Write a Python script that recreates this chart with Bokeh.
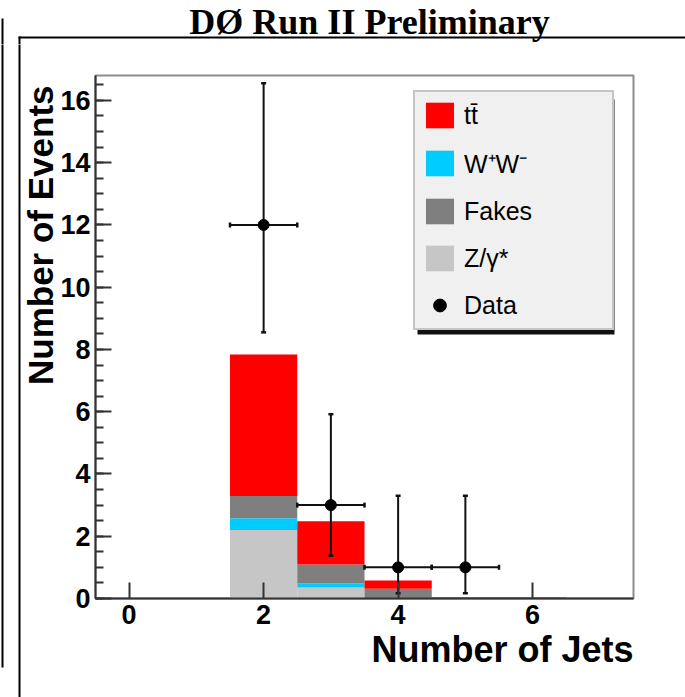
import numpy as np
from bokeh.plotting import figure
from bokeh.layouts import column, row
from bokeh.models import (Range1d, FixedTicker, Legend, LegendItem, Title,
                          BoxAnnotation)
from bokeh.core.properties import value
from bokeh.embed import file_html
from bokeh.resources import INLINE

# Jet multiplicity bins and stacked background expectations
jets = [0, 1, 2, 3, 4, 5, 6, 7]
zgamma = [0.0, 0.0, 2.20, 0.35, 0.02, 0.0, 0.0, 0.0]
ww = [0.0, 0.0, 0.38, 0.14, 0.0, 0.0, 0.0, 0.0]
fakes = [0.0, 0.0, 0.71, 0.60, 0.29, 0.0, 0.0, 0.0]
ttbar = [0.0, 0.0, 4.55, 1.39, 0.27, 0.03, 0.03, 0.0]

# Observed events with asymmetric (Poisson) error bars
data_jets = [2, 3, 4, 5]
data_n = [12, 3, 1, 1]
data_lo = [8.55, 1.37, 0.17, 0.17]
data_hi = [16.55, 5.92, 3.30, 3.30]

x_ticks = [0, 2, 4, 6]
y_ticks = [0, 2, 4, 6, 8, 10, 12, 14, 16]
y_minor = [0.5 * k for k in range(34)]

FONT = "Liberation Sans"
W, H = 685, 697
TOP_H = 44       # height of the title strip
LEFT_W = 21      # width of the left strip


def strip(width, height, x0, x1, y0, y1):
    """A bare figure whose data units are page pixels (y grows downwards)."""
    f = figure(width=width, height=height, output_backend="svg",
               toolbar_location=None, x_range=Range1d(x0, x1),
               y_range=Range1d(y1, y0), min_border=0, frame_align=False)
    f.axis.visible = False
    f.grid.visible = False
    f.outline_line_color = None
    f.background_fill_color = "white"
    f.border_fill_color = "white"
    return f


# ---- title strip -------------------------------------------------------
top = strip(W, TOP_H, 0, W, 0, TOP_H)
top.quad(left=[18, 1, 18], right=[W + 5, 3, 20], top=[36, 18, 36],
         bottom=[38, TOP_H + 1, TOP_H + 1], fill_color="black",
         line_color=None)
top.text(x=[369], y=[21], text=["DØ Run II Preliminary"],
         text_font=value("Liberation Serif"), text_font_style="bold",
         text_font_size="36px", text_align="center",
         text_baseline="alphabetic", text_color="black")

# ---- left strip (page rules) -------------------------------------------
left = strip(LEFT_W, H - TOP_H, 0, LEFT_W, TOP_H, H)
left.quad(left=[1, 18], right=[3, 20], top=[TOP_H - 1, TOP_H - 1],
          bottom=[667, H + 5], fill_color="black", line_color=None)

# ---- main histogram ----------------------------------------------------
p = figure(width=W - LEFT_W, height=H - TOP_H, title=None,
           output_backend="svg", toolbar_location=None, frame_align=False,
           x_range=Range1d(-0.5, 7.5), y_range=Range1d(0, 16.8),
           min_border_left=95 - LEFT_W, min_border_right=52,
           min_border_top=75 - TOP_H, min_border_bottom=99)
p.background_fill_color = "white"
p.border_fill_color = "white"
p.grid.visible = False
p.outline_line_color = "#8c8c8c"
p.outline_line_width = 2

x = np.array(jets, dtype=float)
layers = [("Z/γ*", zgamma, "#c6c6c6"),
          ("W⁺W⁻", ww, "#00ccff"),
          ("Fakes", fakes, "#7f7f7f"),
          ("tt\u0304", ttbar, "#ff0000")]
bottom = np.zeros(len(jets))
renderers = {}
for name, vals, color in layers:
    top_edge = bottom + np.array(vals)
    renderers[name] = p.quad(left=x - 0.5, right=x + 0.5, bottom=bottom,
                             top=top_edge, fill_color=color, line_color=None)
    bottom = top_edge

dx = np.array(data_jets, dtype=float)
dn = np.array(data_n, dtype=float)
err_col = "#111111"
p.segment(x0=dx, y0=data_lo, x1=dx, y1=data_hi, line_color=err_col, line_width=2)
p.segment(x0=dx - 0.5, y0=dn, x1=dx + 0.5, y1=dn, line_color=err_col, line_width=2)
p.scatter(x=np.concatenate([dx, dx]), y=np.concatenate([data_lo, data_hi]),
          marker="dash", size=5, line_color=err_col, line_width=2.5)
p.scatter(x=np.concatenate([dx - 0.5, dx + 0.5]), y=np.concatenate([dn, dn]),
          marker="dash", angle=np.pi / 2, size=5, line_color=err_col,
          line_width=2.5)
p.scatter(x=dx, y=dn, marker="circle", size=11, fill_color="black",
          line_color="black")
r_data_leg = p.scatter(x=dx, y=dn, marker="circle", size=6,
                       fill_color="black", line_color="black")
r_data_leg.visible = False

for ax in (p.xaxis[0], p.yaxis[0]):
    ax.axis_line_color = "#333333"
    ax.axis_line_width = 2
    ax.major_tick_line_color = "#333333"
    ax.major_tick_line_width = 2
    ax.minor_tick_line_color = "#333333"
    ax.minor_tick_line_width = 2
    ax.major_tick_in = 16
    ax.major_tick_out = 0
    ax.minor_tick_in = 8
    ax.minor_tick_out = 0
    ax.major_label_text_font = FONT
    ax.major_label_text_font_style = "bold"
    ax.major_label_text_font_size = "27px"
    ax.major_label_text_color = "black"

p.xaxis[0].ticker = FixedTicker(ticks=x_ticks, minor_ticks=[])
p.yaxis[0].ticker = FixedTicker(ticks=y_ticks, minor_ticks=y_minor)
p.xaxis[0].major_label_standoff = 6
p.yaxis[0].major_label_standoff = 5

p.add_layout(Title(text="Number of Jets", align="right", text_font=FONT,
                   text_font_style="bold", text_font_size="36px",
                   text_color="black", standoff=0, offset=0), "below")
p.add_layout(Title(text="Number of Events", align="right", text_font=FONT,
                   text_font_style="bold", text_font_size="35px",
                   text_color="black", standoff=-5, offset=10), "left")

# page position of the plot frame
FL, FB = 95, 598


def frame_box(x0, x1, y0, y1, color):
    p.add_layout(BoxAnnotation(left=x0 - FL, right=x1 - FL,
                               top=FB - y0, bottom=FB - y1,
                               left_units="screen", right_units="screen",
                               top_units="screen", bottom_units="screen",
                               fill_color=color, fill_alpha=1,
                               line_color=None))


frame_box(417, 614, 99, 334, "#111111")   # legend drop shadow

legend = Legend(items=[
    LegendItem(label="tt\u0304", renderers=[renderers["tt\u0304"]]),
    LegendItem(label="W⁺W⁻", renderers=[renderers["W⁺W⁻"]]),
    LegendItem(label="Fakes", renderers=[renderers["Fakes"]]),
    LegendItem(label="Z/γ*", renderers=[renderers["Z/γ*"]]),
    LegendItem(label="Data", renderers=[r_data_leg]),
], location=(413 - FL, FB - 330), margin=0, padding=7, spacing=15,
    glyph_width=35, glyph_height=32, label_standoff=7, label_width=141,
    label_height=32, label_text_font=FONT, label_text_font_size="25px",
    label_text_color="black",
    border_line_color="#9a9a9a", border_line_width=2,
    background_fill_color="#f0f0f0", background_fill_alpha=1)
p.add_layout(legend)

page = column(top, row(left, p, spacing=0), spacing=0)
open("out.html", "w").write(file_html(page, INLINE))
